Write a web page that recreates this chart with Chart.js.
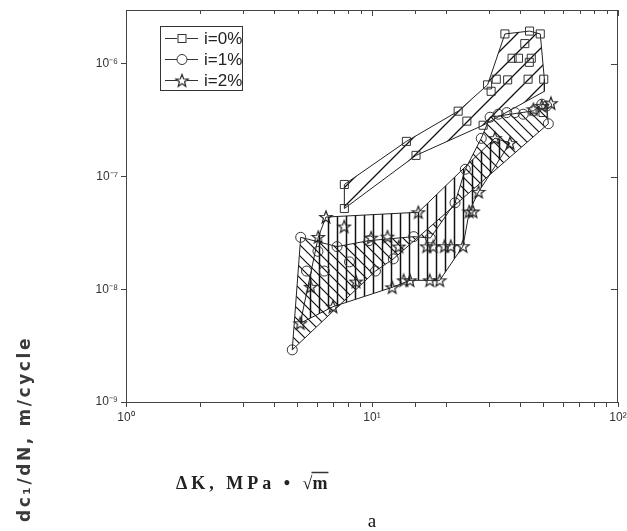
<!DOCTYPE html>
<html>
<head>
<meta charset="utf-8">
<script src="https://cdn.jsdelivr.net/npm/chart.js@4/dist/chart.umd.min.js"></script>
<style>
html, body { margin: 0; padding: 0; background: #fff; }
</style>
</head>
<body>
<canvas id="chart" width="627" height="531"></canvas>
<script>
'use strict'

// ------------- data ------------- //
// i = 0 %  (squares)
var dk0 = [7.72, 7.72, 13.8, 15.1, 22.4, 24.3, 28.3, 29.5, 30.5, 32.0, 34.7, 35.6, 37.1, 39.4, 41.8, 43.1, 43.7, 43.6, 44.4, 48.3, 49.9, 49.6];
var da0 = [8.5e-8, 5.2e-8, 2.05e-7, 1.54e-7, 3.8e-7, 3.1e-7, 2.85e-7, 6.5e-7, 5.7e-7, 7.3e-7, 1.84e-6, 7.2e-7, 1.12e-6, 1.12e-6, 1.51e-6, 7.3e-7, 1.95e-6, 1.03e-6, 1.12e-6, 1.84e-6, 7.3e-7, 3.7e-7];

// i = 1 %  (circles)
var dk1 = [4.74, 5.13, 5.42, 6.03, 6.40, 7.21, 8.10, 9.72, 10.33, 12.21, 14.77, 17.26, 21.75, 23.95, 27.8, 30.2, 32.6, 35.3, 38.1, 41.2, 45.3, 49.0, 51.3, 52.1];
var da1 = [2.9e-9, 2.89e-8, 1.45e-8, 2.17e-8, 1.45e-8, 2.39e-8, 1.75e-8, 2.7e-8, 1.45e-8, 1.86e-8, 2.93e-8, 2.85e-8, 5.85e-8, 1.16e-7, 2.18e-7, 3.36e-7, 3.57e-7, 3.69e-7, 3.69e-7, 3.57e-7, 3.82e-7, 4.38e-7, 4.23e-7, 2.94e-7];

// i = 2 %  (stars)
var dk2 = [5.11, 5.63, 6.05, 6.50, 6.94, 7.71, 8.61, 9.92, 11.56, 12.08, 12.85, 13.45, 14.27, 15.43, 16.69, 17.16, 17.75, 18.85, 19.71, 20.91, 23.44, 24.86, 25.74, 27.1, 31.6, 36.4, 45.3, 49.0, 53.4];
var da2 = [5.0e-9, 1.05e-8, 2.91e-8, 4.37e-8, 7.0e-9, 3.6e-8, 1.17e-8, 2.87e-8, 2.93e-8, 1.04e-8, 2.39e-8, 1.2e-8, 1.2e-8, 4.82e-8, 2.4e-8, 1.2e-8, 2.4e-8, 1.2e-8, 2.41e-8, 2.41e-8, 2.41e-8, 4.89e-8, 4.89e-8, 7.3e-8, 2.19e-7, 1.98e-7, 3.95e-7, 4.23e-7, 4.47e-7];

// scatter band outlines (hatched areas)
var env0k = [7.72, 13.8, 22.4, 29.5, 34.7, 43.7, 48.3, 50.2, 50.2, 28.3, 15.1, 7.72, 7.72];
var env0a = [8.5e-8, 2.05e-7, 3.8e-7, 6.5e-7, 1.84e-6, 1.95e-6, 1.84e-6, 7.3e-7, 5.7e-7, 2.85e-7, 1.54e-7, 5.2e-8, 8.5e-8];
var env1k = [4.74, 5.13, 7.21, 9.72, 14.77, 17.26, 21.75, 23.95, 27.8, 30.2, 45.3, 49.0, 51.3, 52.1, 12.21, 10.33, 4.74];
var env1a = [2.9e-9, 2.89e-8, 2.39e-8, 2.7e-8, 2.93e-8, 2.85e-8, 5.85e-8, 1.16e-7, 2.18e-7, 3.36e-7, 3.82e-7, 4.38e-7, 4.23e-7, 2.94e-7, 1.86e-8, 1.45e-8, 2.9e-9];
var env2k = [5.11, 6.05, 6.50, 15.43, 31.6, 36.4, 27.1, 24.86, 23.44, 18.85, 14.27, 12.08, 6.94, 5.11];
var env2a = [5.0e-9, 2.91e-8, 4.37e-8, 4.82e-8, 2.19e-7, 1.98e-7, 7.3e-8, 4.89e-8, 2.41e-8, 1.2e-8, 1.2e-8, 1.04e-8, 7.0e-9, 5.0e-9];

var seriesNames = ['i=0%', 'i=1%', 'i=2%'];

var xDecades = [1, 10, 100];
var xDecadeLabels = ['10\u2070', '10\u00b9', '10\u00b2'];
var yDecades = [1e-9, 1e-8, 1e-7, 1e-6];
var yDecadeLabels = ['10\u207b\u2079', '10\u207b\u2078', '10\u207b\u2077', '10\u207b\u2076'];

var xTitle = '\u0394K, MPa \u2022 \u221a';
var xTitleUnder = 'm';
var yTitle = 'dc\u2081/dN, m/cycle';
var panelLetter = 'a';


var ctx = document.getElementById('chart').getContext('2d');

function pts(xs, ys) {
	var out = [];
	for (var i = 0; i < xs.length; i++) out.push({x: xs[i], y: ys[i]});
	return out;
}

function decadeIndex(list, v) {
	for (var i = 0; i < list.length; i++) {
		if (Math.abs(Math.log10(v) - Math.log10(list[i])) < 1e-6) return i;
	}
	return -1;
}

//------------- hatch patterns ------------- //
function hatch(kind, size, width) {
	var c = document.createElement('canvas');
	c.width = size; c.height = size;
	var g = c.getContext('2d');
	g.strokeStyle = '#111';
	g.lineWidth = width;
	g.beginPath();
	if (kind == '|') {
		g.moveTo(size / 2, 0); g.lineTo(size / 2, size);
	} else if (kind == '/') {
		g.moveTo(0, size); g.lineTo(size, 0);
		g.moveTo(-size / 2, size / 2); g.lineTo(size / 2, -size / 2);
		g.moveTo(size / 2, size * 1.5); g.lineTo(size * 1.5, size / 2);
	} else {
		g.moveTo(0, 0); g.lineTo(size, size);
		g.moveTo(-size / 2, size / 2); g.lineTo(size / 2, size * 1.5);
		g.moveTo(size / 2, -size / 2); g.lineTo(size * 1.5, size / 2);
	}
	g.stroke();
	return ctx.createPattern(c, 'repeat');
}

//------------- 5 point star marker ------------- //
function starImage(r) {
	var s = Math.ceil(r * 2 + 3);
	var c = document.createElement('canvas');
	c.width = s; c.height = s;
	var g = c.getContext('2d');
	g.strokeStyle = '#222';
	g.lineWidth = 1.2;
	g.beginPath();
	for (var k = 0; k < 10; k++) {
		var rr = k % 2 ? r * 0.42 : r;
		var a = -Math.PI / 2 + k * Math.PI / 5;
		var px = s / 2 + rr * Math.cos(a), py = s / 2 + 0.5 + rr * Math.sin(a);
		if (k == 0) g.moveTo(px, py); else g.lineTo(px, py);
	}
	g.closePath();
	g.stroke();
	return c;
}
var star = starImage(6.5);

//------------- frame, legend and titles ------------- //
var extras = {
	id: 'extras',
	afterDraw: function(chart) {
		var c = chart.ctx, a = chart.chartArea;
		var xs = chart.scales.x, ys = chart.scales.y;
		c.save();
		c.strokeStyle = '#444';
		c.lineWidth = 1;
		c.beginPath();
		c.moveTo(a.left, a.top + 0.5); c.lineTo(a.right, a.top + 0.5);
		c.moveTo(a.right - 0.5, a.top); c.lineTo(a.right - 0.5, a.bottom);
		xs.ticks.forEach(function(t) {
			var px = Math.round(xs.getPixelForValue(t.value)) + 0.5;
			var len = decadeIndex(xDecades, t.value) >= 0 ? 6 : 4;
			c.moveTo(px, a.top); c.lineTo(px, a.top + len);
		});
		ys.ticks.forEach(function(t) {
			var py = Math.round(ys.getPixelForValue(t.value)) + 0.5;
			c.moveTo(a.right, py); c.lineTo(a.right - 7, py);
		});
		c.stroke();

		// legend
		var lx = a.left + 34, ly = a.top + 16;
		c.strokeStyle = '#333';
		c.strokeRect(lx + 0.5, ly + 0.5, 82, 64);
		c.font = '17px "Liberation Sans", Arial, sans-serif';
		c.fillStyle = '#222';
		c.textBaseline = 'middle';
		for (var i = 0; i < 3; i++) {
			var cy = ly + 12.5 + i * 21, cx = lx + 22;
			c.beginPath();
			c.moveTo(lx + 5, cy); c.lineTo(cx - 5, cy);
			c.moveTo(cx + 5, cy); c.lineTo(lx + 38, cy);
			c.stroke();
			if (i == 0) {
				c.strokeRect(cx - 4, cy - 4, 8, 8);
			} else if (i == 1) {
				c.beginPath(); c.arc(cx, cy, 5, 0, Math.PI * 2); c.stroke();
			} else {
				c.drawImage(star, cx - star.width / 2, cy - star.height / 2);
			}
			c.fillText(seriesNames[i], lx + 44, cy + 1);
		}

		// y title, rotated, down the left margin
		c.save();
		c.translate(30, 429);
		c.rotate(-Math.PI / 2);
		c.font = 'bold 17px "DejaVu Sans", sans-serif';
		c.letterSpacing = '2.6px';
		c.fillStyle = '#3a3a3a';
		c.textAlign = 'center';
		c.textBaseline = 'alphabetic';
		c.fillText(yTitle, 0, 0);
		c.restore();

		// x title with overline on the root
		c.font = 'bold 18px "Liberation Serif", serif';
		c.letterSpacing = '4px';
		c.fillStyle = '#222';
		c.textAlign = 'left';
		c.textBaseline = 'alphabetic';
		var tx = 176, ty = 489;
		c.fillText(xTitle, tx, ty);
		var w1 = c.measureText(xTitle).width;
		c.letterSpacing = '0px';
		c.fillText(xTitleUnder, tx + w1 - 4, ty);
		var w2 = c.measureText(xTitleUnder).width;
		c.lineWidth = 1.5;
		c.beginPath();
		c.moveTo(tx + w1 - 5, ty - 16.5); c.lineTo(tx + w1 - 3 + w2, ty - 16.5);
		c.stroke();

		c.font = '19px "Liberation Serif", serif';
		c.fillStyle = '#111';
		c.textAlign = 'center';
		c.fillText(panelLetter, 372, 527);
		c.restore();
	}
};

var bandLine = {type: 'line', borderColor: '#222', borderWidth: 1, pointRadius: 0, tension: 0, fill: 'shape', order: 2};
var marker = {showLine: false, borderColor: '#333', borderWidth: 1, backgroundColor: 'rgba(0,0,0,0)', order: 0};

var data = {
	datasets: [
		Object.assign({}, bandLine, {label: 'band0', data: pts(env0k, env0a), backgroundColor: hatch('/', 19, 1.3)}),
		Object.assign({}, bandLine, {label: 'band1', data: pts(env1k, env1a), backgroundColor: hatch('\\', 11, 1.2)}),
		Object.assign({}, bandLine, {label: 'band2', data: pts(env2k, env2a), backgroundColor: hatch('|', 9, 1.5)}),
		Object.assign({}, marker, {label: seriesNames[0], data: pts(dk0, da0), pointStyle: 'rect', pointRadius: 5.7}),
		Object.assign({}, marker, {label: seriesNames[1], data: pts(dk1, da1), pointStyle: 'circle', pointRadius: 5}),
		Object.assign({}, marker, {label: seriesNames[2], data: pts(dk2, da2), pointStyle: star, pointRadius: 6})
	]
};

var tickFont = {family: '"Liberation Sans", Arial, sans-serif', size: 12};

var myChart = new Chart(ctx, {
	type: 'scatter',
	data: data,
	plugins: [extras],
	options: {
		responsive: false,
		animation: false,
		layout: {padding: {left: 0, right: 9, top: 10, bottom: 0}},
		plugins: {
			legend: {display: false},
			tooltip: {enabled: false}
		},
		scales: {
			x: {
				type: 'logarithmic',
				min: 1,
				max: 100,
				afterFit: function(s) { s.height = 129; s.paddingLeft = 0; s.paddingRight = 0; },
				border: {color: '#444', width: 1},
				grid: {drawOnChartArea: false, tickLength: 5, color: '#444'},
				ticks: {
					autoSkip: false,
					maxRotation: 0,
					padding: 3,
					color: '#333',
					font: tickFont,
					callback: function(v) {
						var k = decadeIndex(xDecades, v);
						return k < 0 ? '' : xDecadeLabels[k];
					}
				}
			},
			y: {
				type: 'logarithmic',
				min: 1e-9,
				max: 3e-6,
				afterFit: function(s) { s.width = 126; s.paddingTop = 0; s.paddingBottom = 0; },
				afterBuildTicks: function(s) {
					s.ticks = yDecades.map(function(v) { return {value: v}; });
				},
				border: {color: '#444', width: 1},
				grid: {drawOnChartArea: false, tickLength: 5, color: '#444'},
				ticks: {
					autoSkip: false,
					padding: 3,
					color: '#333',
					font: tickFont,
					callback: function(v) {
						var k = decadeIndex(yDecades, v);
						return k < 0 ? '' : yDecadeLabels[k];
					}
				}
			}
		}
	}
});
</script>
</body>
</html>
